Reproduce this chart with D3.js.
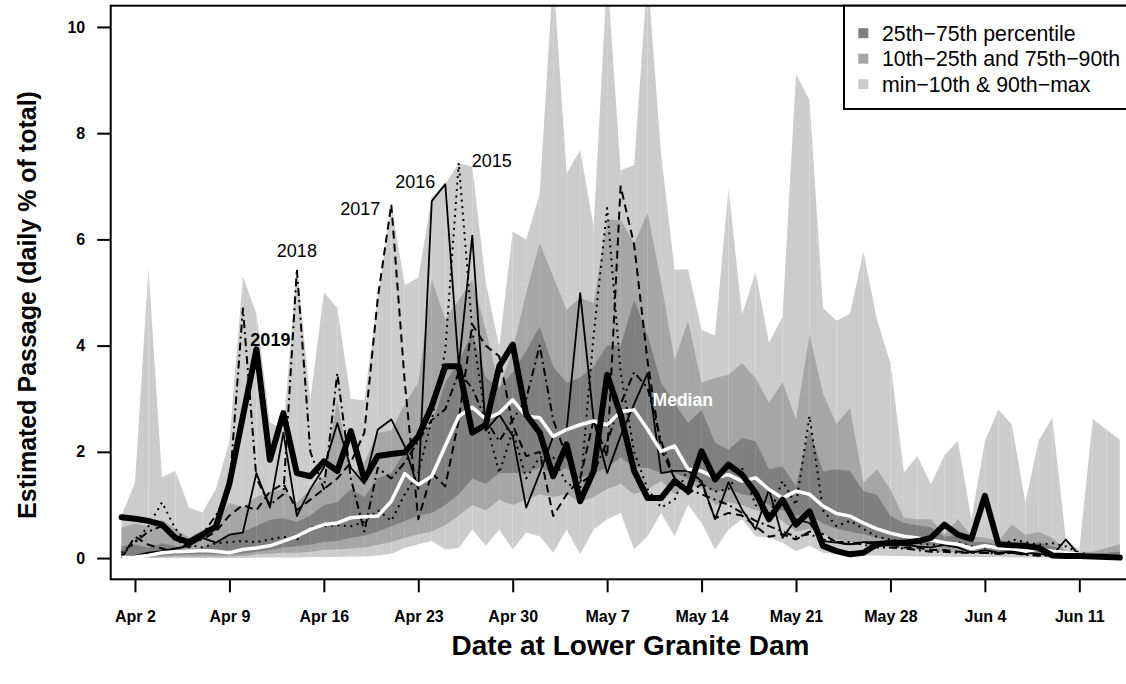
<!DOCTYPE html>
<html>
<head>
<meta charset="utf-8">
<script src="https://cdn.jsdelivr.net/npm/d3@7"></script>
<style>
  html, body { margin: 0; padding: 0; background: #fff; }
  svg { display: block; font-family: "Liberation Sans", Arial, Helvetica, sans-serif; }
</style>
</head>
<body>
<svg id="chart" width="1126" height="684"></svg>
<script>
// Daily passage at Lower Granite Dam, Apr 1 - Jun 14 (one entry per day)
const dates = d3.utcDay.range(new Date(Date.UTC(2019, 3, 1)), new Date(Date.UTC(2019, 5, 15)));

// Historical distribution of daily % of total passage
const pMin = [0,0,0,0,0,0,0,0,0,0,
  0.01,0.01,0.01,0.01,0.02,0.02,0.02,0.03,0.03,0.05,
  0.08,0.19,0.26,0.32,0.16,0.19,0.54,0.23,0.54,0.16,
  0.48,0.41,0.10,0.54,0.07,0.54,0.73,0.85,0.16,0.41,
  0.85,0.41,1.00,0.66,0.16,0.54,0.73,0.41,0.38,0.29,
  0.13,0.23,0.10,0.08,0.06,0.05,0.05,0.04,0.04,0.03,
  0.03,0.03,0.02,0.02,0.02,0.02,0.01,0.01,0.01,0.01,
  0.01,0,0,0,0];
const p10 = [0,0.005,0.01,0.02,0.03,0.03,0.03,0.03,0.03,0.04,
  0.07,0.08,0.10,0.10,0.12,0.15,0.16,0.18,0.20,0.25,
  0.30,0.38,0.45,0.50,0.62,0.80,1.00,0.90,1.10,1.00,
  1.10,1.20,1.15,1.20,1.05,1.15,1.30,1.40,1.20,1.30,
  1.45,1.20,1.40,1.30,1.00,1.05,1.00,0.90,0.85,0.70,
  0.50,0.55,0.45,0.35,0.30,0.28,0.22,0.20,0.17,0.15,
  0.14,0.12,0.12,0.10,0.10,0.08,0.08,0.07,0.06,0.05,
  0.04,0.03,0.03,0.02,0.02];
const p25 = [0.005,0.01,0.03,0.05,0.06,0.07,0.07,0.07,0.06,0.08,
  0.12,0.15,0.20,0.22,0.25,0.30,0.32,0.38,0.42,0.50,
  0.60,0.70,0.80,0.85,1.00,1.20,1.50,1.40,1.60,1.60,
  1.60,1.70,1.60,1.70,1.50,1.60,1.70,1.90,1.70,1.70,
  1.60,1.60,1.50,1.40,1.25,1.30,1.20,1.15,1.00,0.90,
  0.80,0.80,0.65,0.55,0.50,0.45,0.38,0.33,0.30,0.26,
  0.24,0.20,0.18,0.15,0.15,0.13,0.12,0.10,0.10,0.08,
  0.06,0.05,0.04,0.03,0.03];
const p75 = [0.22,0.25,0.20,0.28,0.22,0.15,0.20,0.30,0.45,0.50,
  0.60,0.72,0.75,0.68,0.80,1.00,1.05,1.30,1.15,1.50,
  1.60,2.00,2.30,2.50,3.30,3.70,4.24,3.40,3.20,3.50,
  3.90,4.36,3.60,3.30,3.40,3.60,4.00,4.00,4.86,4.20,
  3.30,2.92,2.54,2.79,2.17,2.04,2.26,2.20,1.67,1.73,
  1.35,2.42,1.63,1.67,1.64,1.26,1.19,0.79,0.66,0.62,
  0.58,0.40,0.45,0.30,0.30,0.25,0.30,0.25,0.30,0.22,
  0.12,0.10,0.08,0.10,0.12];
const p90 = [0.57,0.65,0.60,0.72,0.55,0.38,0.53,0.66,1.04,0.95,
  1.15,1.25,1.30,1.04,1.29,1.54,2.98,1.54,1.80,2.36,
  2.40,2.90,3.30,5.24,4.49,4.86,5.24,4.30,3.23,3.90,
  5.00,5.93,5.30,4.67,4.90,4.80,6.37,6.37,5.93,6.49,
  5.20,3.73,4.46,3.30,3.39,3.45,3.67,3.39,2.92,3.31,
  2.61,4.20,3.10,2.52,2.82,1.42,1.67,1.29,0.76,0.73,
  0.73,0.45,0.73,0.41,0.38,0.32,0.63,0.44,0.49,0.38,
  0.14,0.12,0.12,0.19,0.26];
const pMax = [0.80,1.42,5.46,1.52,1.64,0.95,0.86,1.30,2.20,5.30,
  4.60,2.55,2.42,5.50,2.98,5.00,4.71,3.00,2.97,4.90,
  6.66,5.14,5.28,6.80,7.04,7.44,7.37,5.20,3.98,6.15,
  6.00,6.86,11.0,7.24,7.68,6.24,11.0,7.30,7.40,11.0,
  7.60,5.43,5.44,4.30,4.19,6.96,4.58,5.39,4.05,4.55,
  9.11,8.63,4.71,4.47,4.60,5.77,4.49,3.67,1.61,1.92,
  1.39,1.93,2.21,0.73,2.20,2.80,2.51,1.05,2.22,2.64,
  0.36,0.15,2.62,2.42,2.23];
const median = [0.01,0.02,0.05,0.10,0.12,0.13,0.14,0.13,0.10,0.16,
  0.19,0.23,0.32,0.41,0.54,0.63,0.66,0.76,0.78,0.79,
  1.07,1.59,1.38,1.54,2.11,2.67,2.84,2.62,2.73,2.98,
  2.67,2.64,2.29,2.42,2.51,2.58,2.51,2.76,2.79,2.42,
  2.01,2.11,1.67,1.64,1.51,1.57,1.45,1.51,1.29,1.13,
  1.26,1.20,0.98,0.84,0.79,0.66,0.55,0.47,0.41,0.38,
  0.34,0.29,0.26,0.18,0.23,0.19,0.18,0.13,0.17,0.13,
  0.10,0.07,0.05,0.04,0.03];

// Individual years
const y2015 = [0.05,0.30,0.60,1.05,0.55,0.25,0.20,0.28,0.30,0.32,
  0.30,0.35,0.40,0.35,0.58,0.60,0.62,0.60,0.68,0.90,
  0.70,1.20,1.60,2.60,3.90,7.44,4.30,2.60,1.60,2.40,
  1.50,1.90,1.90,1.40,1.30,4.20,6.59,3.50,2.00,1.30,
  0.95,1.10,1.70,1.40,1.25,1.30,1.70,1.00,0.80,1.45,
  1.00,2.67,0.90,0.60,0.70,0.55,0.40,0.35,0.30,0.28,
  0.25,0.25,0.30,0.22,0.20,0.18,0.35,0.30,0.25,0.28,
  0.22,0.10,0.06,0.04,0.02];
const y2016 = [0.02,0.04,0.10,0.13,0.18,0.23,0.38,0.29,0.44,0.48,
  1.60,0.95,2.36,0.79,1.30,1.70,2.54,1.70,1.40,2.42,
  2.61,2.10,1.30,6.72,7.04,3.60,6.07,2.40,2.70,2.30,
  0.95,1.60,2.29,2.42,4.99,2.60,1.60,2.30,2.90,3.48,
  1.60,1.64,1.64,1.45,0.73,1.43,0.91,0.54,1.29,0.38,
  0.73,0.66,0.32,0.29,0.26,0.30,0.30,0.28,0.25,0.22,
  0.20,0.25,0.20,0.10,0.15,0.10,0.12,0.10,0.08,0.05,
  0.35,0.05,0.03,0.02,0.01];
const y2017 = [0.00,0.40,0.25,0.18,0.10,0.30,0.35,0.50,0.80,1.00,
  0.90,1.25,1.40,0.90,1.10,1.30,1.50,1.80,2.36,4.90,
  6.66,3.30,0.73,1.60,1.35,2.60,4.40,4.00,3.80,2.50,
  1.92,2.00,0.79,1.20,1.50,2.60,1.90,7.00,5.90,3.70,
  2.04,1.50,1.20,1.40,0.75,0.85,0.80,0.60,0.40,0.45,
  0.35,0.50,0.45,0.30,0.25,0.30,0.25,0.25,0.20,0.20,
  0.15,0.15,0.12,0.12,0.10,0.08,0.10,0.07,0.05,0.05,
  0.04,0.03,0.02,0.02,0.01];
const y2018 = [0.10,0.30,0.50,0.60,0.35,0.20,0.45,0.80,1.30,4.70,
  1.50,1.00,1.20,5.44,2.00,1.30,3.48,1.50,0.50,1.70,
  1.50,1.80,2.20,2.60,2.80,3.50,3.20,2.60,2.20,2.60,
  3.00,4.00,2.60,1.90,1.40,1.60,2.20,2.90,3.50,3.20,
  2.20,1.50,1.30,1.20,1.10,1.00,0.85,0.70,0.60,0.50,
  0.40,0.45,0.35,0.30,0.30,0.25,0.20,0.20,0.18,0.15,
  0.12,0.12,0.10,0.10,0.10,0.08,0.10,0.06,0.05,0.05,
  0.04,0.03,0.02,0.02,0.01];
const y2019 = [0.77,0.74,0.70,0.63,0.38,0.30,0.44,0.59,1.40,2.67,
  3.93,1.85,2.73,1.60,1.54,1.82,1.64,2.39,1.48,1.92,
  1.96,1.99,2.29,2.86,3.61,3.61,2.36,2.51,3.61,4.02,
  2.70,2.36,1.54,2.14,1.07,1.64,3.45,2.70,1.64,1.13,
  1.13,1.45,1.26,2.01,1.48,1.76,1.57,1.23,0.73,1.10,
  0.63,0.88,0.23,0.13,0.07,0.10,0.26,0.29,0.29,0.32,
  0.38,0.63,0.44,0.36,1.17,0.26,0.24,0.23,0.19,0.05,
  0.04,0.04,0.03,0.02,0.01];

const yTicks = [0, 2, 4, 6, 8, 10];
const legendLabels = ["25th\u221275th percentile", "10th\u221225th and 75th\u221290th", "min\u221210th & 90th\u2212max"];
const bandColors = ["#7f7f7f", "#a6a6a6", "#cccccc"];

const svg = d3.select("#chart");
const pLeft = 110.7, pTop = 5.7, pBottom = 579.3, pRight = 1150;
const dayMs = 864e5;
const x = d3.scaleUtc()
  .domain([new Date(dates[0].getTime() - 0.8 * dayMs), new Date(dates[0].getTime() + 76.24 * dayMs)])
  .range([pLeft, pRight]);
const y = d3.scaleLinear().domain([-0.4, 10.4]).range([pBottom, pTop]);

svg.append("defs").append("clipPath").attr("id", "plotClip")
  .append("rect").attr("x", pLeft).attr("y", pTop).attr("width", pRight - pLeft).attr("height", pBottom - pTop);

const plot = svg.append("g").attr("clip-path", "url(#plotClip)");

// Percentile bands, drawn one day-segment at a time
function band(lo, hi, fill) {
  const g = plot.append("g");
  const area = d3.area().x(d => x(d.t)).y0(d => y(d.lo)).y1(d => y(d.hi));
  for (let i = 0; i < dates.length - 1; i++) {
    const seg = [i, i + 1].map(j => ({ t: dates[j], lo: lo[j], hi: hi[j] }));
    g.append("path").attr("d", area(seg)).attr("fill", fill);
  }
}
band(pMin, pMax, bandColors[2]);
band(p10, p90, bandColors[1]);
band(p25, p75, bandColors[0]);

const line = d3.line().x((d, i) => x(dates[i])).y(d => y(d));
const years = [
  { vals: y2015, dash: "2,4.5", w: 2 },
  { vals: y2016, dash: null, w: 1.8 },
  { vals: y2017, dash: "8,5", w: 2 },
  { vals: y2018, dash: "2,4,8,4", w: 2 }
];
years.forEach(s => {
  plot.append("path").attr("d", line(s.vals)).attr("fill", "none")
    .attr("stroke", "#000").attr("stroke-width", s.w)
    .attr("stroke-dasharray", s.dash).attr("stroke-linejoin", "round");
});
plot.append("path").attr("d", line(median)).attr("fill", "none")
  .attr("stroke", "#fff").attr("stroke-width", 3.5).attr("stroke-linejoin", "round");
plot.append("path").attr("d", line(y2019)).attr("fill", "none")
  .attr("stroke", "#000").attr("stroke-width", 6).attr("stroke-linejoin", "round").attr("stroke-linecap", "round");

// Year labels beside each year's peak
function peakLabel(text, vals, idx, dx, dy, anchor, bold, color) {
  svg.append("text").attr("x", x(dates[idx]) + dx).attr("y", y(vals[idx]) + dy)
    .attr("text-anchor", anchor).attr("font-size", 18)
    .attr("font-weight", bold ? "bold" : "normal").attr("fill", color || "#000").text(text);
}
peakLabel("2018", y2018, 13, 0, -12, "middle");
peakLabel("2017", y2017, 20, -11, 11, "end");
peakLabel("2016", y2016, 24, -10, 4, "end");
peakLabel("2015", y2015, 25, 13, 4, "start");
peakLabel("2019", y2019, 10, 14, -3, "middle", true);
svg.append("text").attr("x", x(dates[39]) + 5).attr("y", y(median[39]) - 24)
  .attr("font-size", 17.5).attr("font-weight", "bold").attr("fill", "#fff").text("Median");

// Frame
svg.append("rect").attr("x", pLeft).attr("y", pTop).attr("width", pRight - pLeft).attr("height", pBottom - pTop)
  .attr("fill", "none").attr("stroke", "#000").attr("stroke-width", 2);

// Y axis
const yAxis = svg.append("g").attr("transform", `translate(${pLeft},0)`)
  .call(d3.axisLeft(y).tickValues(yTicks).tickSize(13.5).tickPadding(12).tickFormat(d3.format("d")));
yAxis.select(".domain").remove();
yAxis.selectAll(".tick line").attr("stroke-width", 2);
yAxis.selectAll(".tick text").attr("font-size", 16).attr("font-weight", "bold")
  .attr("font-family", "Liberation Sans, Arial, sans-serif");

// X axis: weekly ticks starting Apr 2
const xTicks = dates.filter((d, i) => i >= 1 && (i - 1) % 7 === 0);
const xAxis = svg.append("g").attr("transform", `translate(0,${pBottom})`)
  .call(d3.axisBottom(x).tickValues(xTicks).tickSize(13).tickPadding(18).tickFormat(d3.utcFormat("%b %-d")));
xAxis.select(".domain").remove();
xAxis.selectAll(".tick line").attr("stroke-width", 2);
xAxis.selectAll(".tick text").attr("font-size", 16).attr("font-weight", "bold")
  .attr("font-family", "Liberation Sans, Arial, sans-serif");

// Axis titles
svg.append("text").attr("x", 630.5).attr("y", 655).attr("text-anchor", "middle")
  .attr("font-size", 28).attr("font-weight", "bold").text("Date at Lower Granite Dam");
svg.append("text").attr("transform", "translate(36,305) rotate(-90)").attr("text-anchor", "middle")
  .attr("font-size", 25).attr("font-weight", "bold").text("Estimated Passage (daily % of total)");

// Legend
const lg = svg.append("g");
lg.append("rect").attr("x", 844).attr("y", pTop).attr("width", 300).attr("height", 109 - pTop)
  .attr("fill", "#fff").attr("stroke", "#000").attr("stroke-width", 2);
legendLabels.forEach((lab, i) => {
  const by = 40.7 + i * 25.5;
  lg.append("rect").attr("x", 858.3).attr("y", by - 12.5).attr("width", 10).attr("height", 10).attr("fill", bandColors[i]);
  lg.append("text").attr("x", 882).attr("y", by).attr("font-size", 21.3).text(lab);
});
</script>
</body>
</html>
